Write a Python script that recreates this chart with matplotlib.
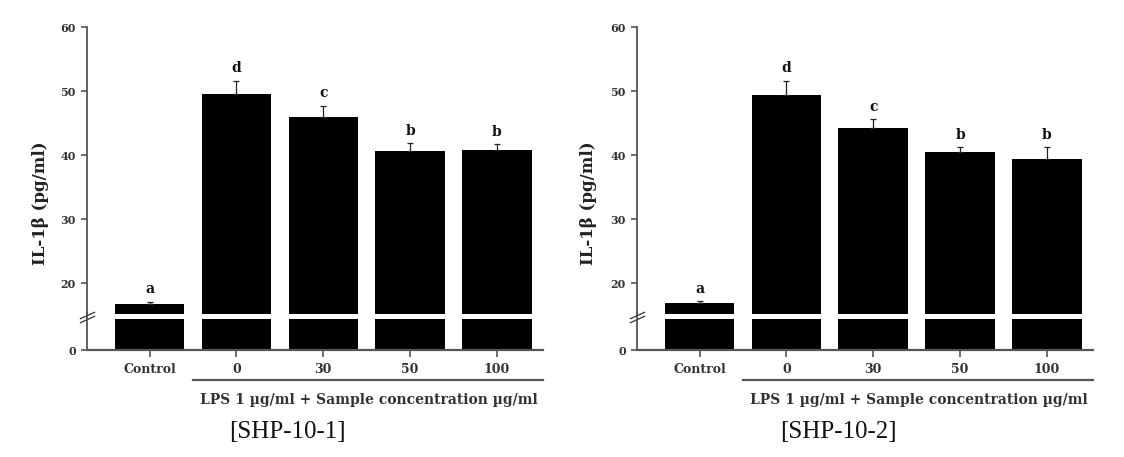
import numpy as np
import matplotlib.pyplot as plt
from matplotlib.transforms import offset_copy

# group labels on the x axis
groups = ["Control", "0", "30", "50", "100"]

# SHP-10-1 panel
shp1_mean = [16.8, 49.5, 46.0, 40.7, 40.8]
shp1_err = [0.3, 2.1, 1.7, 1.2, 0.9]
shp1_letters = ["a", "d", "c", "b", "b"]

# SHP-10-2 panel
shp2_mean = [16.9, 49.4, 44.2, 40.5, 39.4]
shp2_err = [0.3, 2.2, 1.4, 0.7, 1.8]
shp2_letters = ["a", "d", "c", "b", "b"]

yticks_top = [20, 30, 40, 50, 60]

plt.rcParams['font.family'] = ['DejaVu Serif']
spine_col = '#555555'
text_col = '#333333'

fig = plt.figure(figsize=(11.24, 4.57), dpi=100)


def draw_panel(left, means, errs, letters, caption, ylab_x, cap_x):
    x = np.arange(len(groups))
    w = 0.4057
    ax_top = fig.add_axes([left, 0.3129, w, 0.9409 - 0.3129])
    ax_low = fig.add_axes([left, 0.2341, w, 0.3009 - 0.2341])

    for ax in (ax_top, ax_low):
        ax.bar(x, means, width=0.8, color='black')
        ax.set_xlim(-0.72, 4.53)
        ax.spines['right'].set_visible(False)
        ax.spines['top'].set_visible(False)
        ax.spines['left'].set_color(spine_col)
        ax.spines['left'].set_linewidth(1.3)
        ax.tick_params(axis='y', length=4, width=1.2, color=spine_col, pad=4,
                       labelsize=8, labelcolor=text_col)

    # upper segment of the broken axis
    ax_top.errorbar(x, means, yerr=[np.zeros(len(x)), errs], fmt='none',
                    ecolor='#222222', elinewidth=0.9, capsize=2, capthick=0.9)
    ax_top.set_ylim(15.2, 60)
    ax_top.set_yticks(yticks_top)
    ax_top.set_yticklabels([str(v) for v in yticks_top], fontweight='bold')
    ax_top.spines['bottom'].set_visible(False)
    ax_top.set_xticks([])

    for xi, m, e, let in zip(x, means, errs, letters):
        ax_top.annotate(let, (xi, m + e), xytext=(0, 6), textcoords='offset points',
                        ha='center', va='baseline', fontsize=10, fontweight='bold',
                        color='#111111')

    # lower segment
    ax_low.set_ylim(0, 5)
    ax_low.set_yticks([0])
    ax_low.set_yticklabels(["0"], fontweight='bold')
    ax_low.spines['bottom'].set_color(spine_col)
    ax_low.spines['bottom'].set_linewidth(1.6)
    ax_low.set_xticks(x)
    ax_low.set_xticklabels(groups, fontweight='bold')
    ax_low.tick_params(axis='x', length=5, width=1.2, color=spine_col, pad=4,
                       labelsize=9, labelcolor=text_col)

    # fill the spine through the gap and draw the break marks
    ax_low.plot([0, 0], [1, 1.2], transform=ax_low.transAxes, color=spine_col,
                lw=1.3, clip_on=False)
    for off in (3.0, 0.0):
        tr = offset_copy(ax_low.transAxes, fig=fig, x=0, y=off, units='points')
        ax_low.plot([0], [1], marker=[(-1, -0.45), (1, 0.45)], markersize=11,
                    linestyle='none', color='#444444', mew=1.0, clip_on=False,
                    transform=tr)

    # LPS group line and label
    xt = ax_low.get_xaxis_transform()
    ax_low.plot([0.5, 4.53], [-0.984, -0.984], transform=xt, color=spine_col,
                lw=1.6, clip_on=False)
    ax_low.text(2.52, -1.64, "LPS 1 \u00b5g/ml + Sample concentration \u00b5g/ml",
                transform=xt, ha='center', va='center', fontsize=10,
                fontweight='bold', color=text_col)

    fig.text(ylab_x, 0.555, "IL-1\u03b2 (pg/ml)", rotation=90, ha='center',
             va='center', fontsize=12, fontweight='bold', color='#222222')
    fig.text(cap_x, 0.0547, caption, ha='center', va='center', fontsize=18,
             family='Liberation Serif', color='#111111')


draw_panel(0.0774, shp1_mean, shp1_err, shp1_letters, "[SHP-10-1]", 0.0356, 0.256)
draw_panel(0.5667, shp2_mean, shp2_err, shp2_letters, "[SHP-10-2]", 0.524, 0.7456)

fig.savefig("out.png", dpi=100, facecolor='white')
